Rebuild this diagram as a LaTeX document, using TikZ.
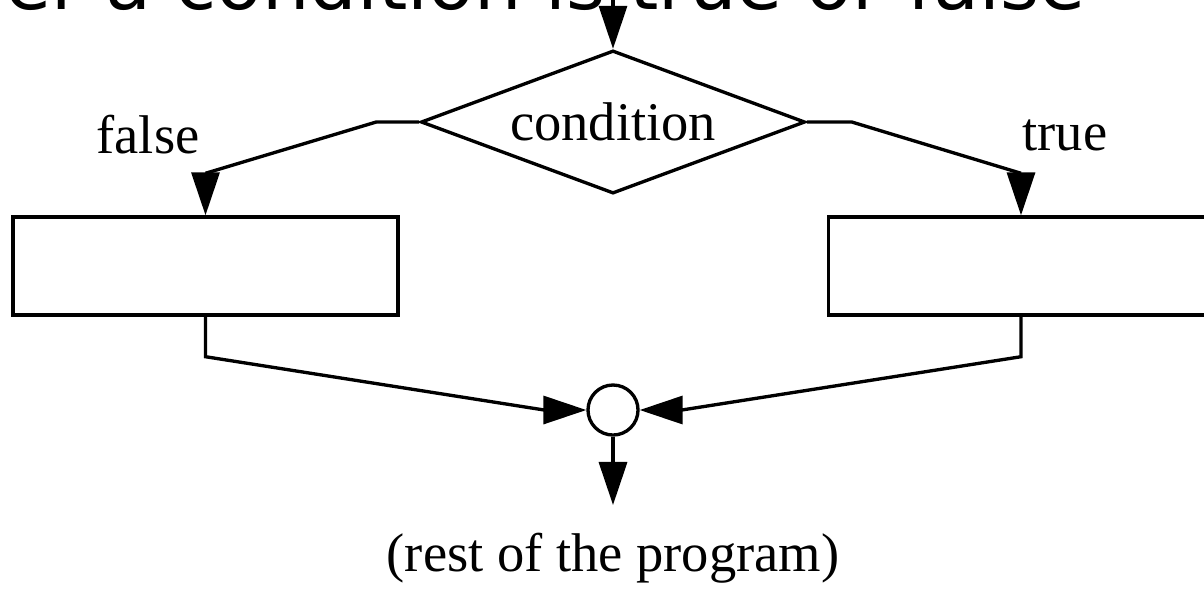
\documentclass[tikz,border=0pt]{standalone}
\usepackage{fontspec}
\setmainfont{Liberation Serif}
\newfontfamily\headfont{DejaVu Sans}
\usetikzlibrary{arrows.meta}
\usetikzlibrary{shapes.geometric}

\tikzset{
  arr/.style={-{Triangle[length=4.3mm,width=2.8mm]}},
  decision/.style={diamond,draw,aspect=2.7,minimum width=3.84cm,minimum height=1.43cm,inner sep=0pt},
  blockbox/.style={rectangle,draw,minimum width=3.85cm,minimum height=0.98cm,inner sep=0pt},
  joint/.style={circle,draw,minimum size=0.5cm,inner sep=0pt}
}

\begin{document}
\begin{tikzpicture}[x=0.01cm,y=-0.01cm,line width=0.95pt,font=\fontsize{15.5}{18}\selectfont]

\clip (0,0) rectangle (1204,599);

\node[anchor=base east,inner sep=0pt] (head) at (1087,9) {\headfont\fontsize{21.3}{25}\selectfont Whether a condition is true or false};

\coordinate (in) at (613,-20);
\coordinate (out) at (613,505);

\node[decision] (cond) at (613,122) {condition};
\node[blockbox] (lbox) at (205.5,266) {};
\node[blockbox] (rbox) at (1021,266) {};
\node[joint] (merge) at (613,410) {};

\node (flab) at (148,135) {false};
\node (tlab) at (1065,135) {true};
\node (rest) at (613,558) {(rest of the program)};

\draw[arr] (in) -- (cond.north);
\draw[arr] (cond.west) -- ++(-43,0) -- ([yshift=0.42cm]lbox.north) -- (lbox.north);
\draw[arr] (cond.east) -- ++(45,0) -- ([yshift=0.42cm]rbox.north) -- (rbox.north);
\draw[arr] (lbox.south) -- ++(0,40) -- ([xshift=-0.42cm]merge.west) -- (merge.west);
\draw[arr] (rbox.south) -- ++(0,40) -- ([xshift=0.42cm]merge.east) -- (merge.east);
\draw[arr] (merge.south) -- (out);

\end{tikzpicture}
\end{document}
